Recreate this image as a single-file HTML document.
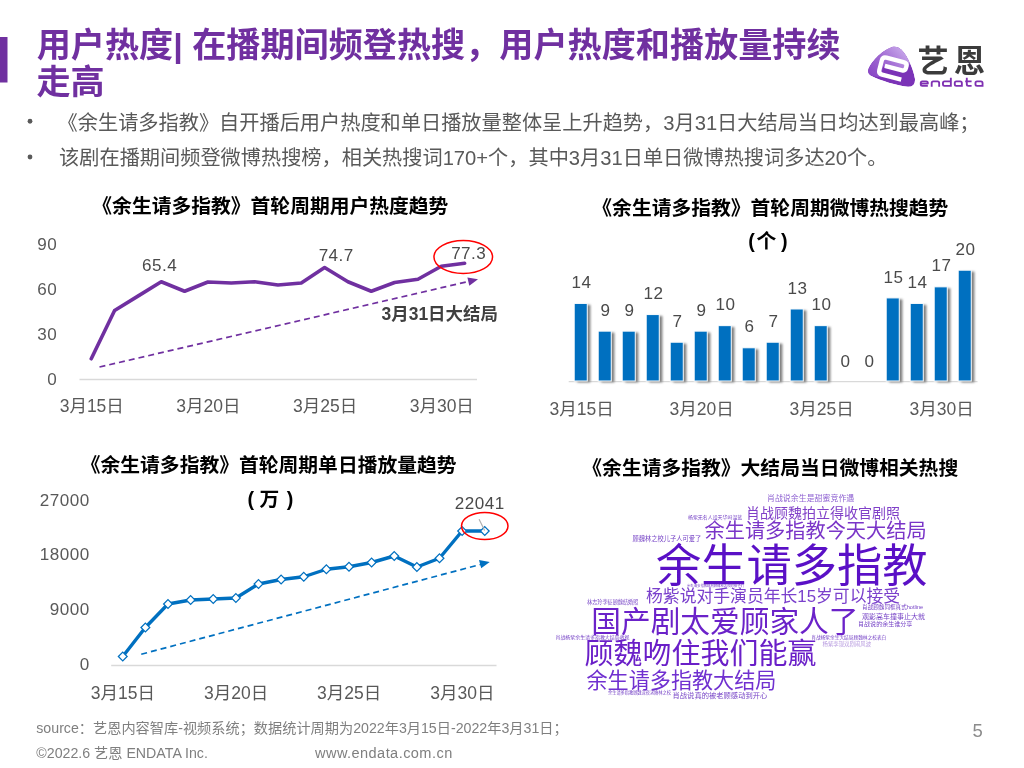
<!DOCTYPE html>
<html lang="zh">
<head>
<meta charset="utf-8">
<title>用户热度 | 余生请多指教</title>
<style>
html,body{margin:0;padding:0;background:#fff;}
body{width:1024px;height:768px;position:relative;overflow:hidden;font-family:"Liberation Sans","Noto Sans CJK SC",sans-serif;}
#art{position:absolute;left:0;top:0;width:1024px;height:768px;}
.t{position:absolute;white-space:nowrap;line-height:1;font-family:"Liberation Sans","Noto Sans CJK SC",sans-serif;}
#text{will-change:opacity;}
.h{color:transparent;-webkit-user-select:text;user-select:text;}
</style>
</head>
<body>
<svg id="art" width="1024" height="768" viewBox="0 0 1024 768">
<defs><linearGradient id="lg" x1="0.05" y1="0.9" x2="0.95" y2="0.25"><stop offset="0" stop-color="#8A48C6"/><stop offset="0.5" stop-color="#A06AD2"/><stop offset="1" stop-color="#C7A6EA"/></linearGradient>
<filter id="sh" x="-20%" y="-5%" width="150%" height="110%"><feGaussianBlur stdDeviation="0.95"/></filter></defs>
<rect x="0" y="37" width="7.5" height="45.5" fill="#7030A0"/>
<circle cx="30" cy="121.25" r="2.4" fill="#595959"/>
<circle cx="30" cy="157.00" r="2.4" fill="#595959"/>
<line x1="79.5" y1="379.5" x2="477" y2="379.5" stroke="#D9D9D9" stroke-width="1.3"/>
<polyline points="91.25,358.75 114.59,310.50 137.92,296.10 161.25,281.75 184.59,291.25 207.93,282.00 231.26,283.00 254.59,281.75 277.93,285.00 301.26,283.00 324.60,267.50 347.94,281.75 371.27,291.25 394.61,282.50 417.94,279.25 441.28,266.25 464.61,263.25" fill="none" stroke="#7030A0" stroke-width="3.6" stroke-linejoin="round" stroke-linecap="round"/>
<ellipse cx="463.25" cy="257.0" rx="29.3" ry="16.4" fill="none" stroke="#FF0000" stroke-width="1.5"/>
<line x1="99.5" y1="367" x2="470" y2="281.1" stroke="#7030A0" stroke-width="1.7" stroke-dasharray="6 4"/>
<polygon points="478,279.25 467.4,277.6 469.3,285.7" fill="#7030A0"/>
<line x1="568.7" y1="381.6" x2="977.5" y2="381.6" stroke="#D9D9D9" stroke-width="1.3"/>
<g fill="#808080" filter="url(#sh)" transform="translate(3.1 1.4)"><rect x="574.20" y="303.44" width="13.10" height="77.56"/><rect x="598.20" y="331.14" width="13.10" height="49.86"/><rect x="622.20" y="331.14" width="13.10" height="49.86"/><rect x="646.20" y="314.52" width="13.10" height="66.48"/><rect x="670.20" y="342.22" width="13.10" height="38.78"/><rect x="694.20" y="331.14" width="13.10" height="49.86"/><rect x="718.20" y="325.60" width="13.10" height="55.40"/><rect x="742.20" y="347.76" width="13.10" height="33.24"/><rect x="766.20" y="342.22" width="13.10" height="38.78"/><rect x="790.20" y="308.98" width="13.10" height="72.02"/><rect x="814.20" y="325.60" width="13.10" height="55.40"/><rect x="886.20" y="297.90" width="13.10" height="83.10"/><rect x="910.20" y="303.44" width="13.10" height="77.56"/><rect x="934.20" y="286.82" width="13.10" height="94.18"/><rect x="958.20" y="270.20" width="13.10" height="110.80"/></g>
<g fill="#0070C0" stroke="#fff" stroke-width="1.1" stroke-opacity="0.9"><rect x="574.20" y="303.44" width="13.10" height="77.56"/><rect x="598.20" y="331.14" width="13.10" height="49.86"/><rect x="622.20" y="331.14" width="13.10" height="49.86"/><rect x="646.20" y="314.52" width="13.10" height="66.48"/><rect x="670.20" y="342.22" width="13.10" height="38.78"/><rect x="694.20" y="331.14" width="13.10" height="49.86"/><rect x="718.20" y="325.60" width="13.10" height="55.40"/><rect x="742.20" y="347.76" width="13.10" height="33.24"/><rect x="766.20" y="342.22" width="13.10" height="38.78"/><rect x="790.20" y="308.98" width="13.10" height="72.02"/><rect x="814.20" y="325.60" width="13.10" height="55.40"/><rect x="886.20" y="297.90" width="13.10" height="83.10"/><rect x="910.20" y="303.44" width="13.10" height="77.56"/><rect x="934.20" y="286.82" width="13.10" height="94.18"/><rect x="958.20" y="270.20" width="13.10" height="110.80"/></g>
<line x1="111.2" y1="665.5" x2="496.5" y2="665.5" stroke="#D9D9D9" stroke-width="1.3"/>
<polyline points="122.75,656.50 145.38,627.50 168.00,604.00 190.62,600.00 213.25,599.00 235.88,598.00 258.50,584.00 281.12,579.50 303.75,576.75 326.38,569.25 349.00,566.75 371.62,562.50 394.25,556.00 416.88,567.00 439.50,558.25 462.12,531.00 484.75,531.00" fill="none" stroke="#0070C0" stroke-width="3.4" stroke-linejoin="round" stroke-linecap="round"/>
<g fill="#fff" stroke="#0070C0" stroke-width="1.25"><path d="M122.75 652.10l4.4 4.4l-4.4 4.4l-4.4-4.4z"/><path d="M145.38 623.10l4.4 4.4l-4.4 4.4l-4.4-4.4z"/><path d="M168.00 599.60l4.4 4.4l-4.4 4.4l-4.4-4.4z"/><path d="M190.62 595.60l4.4 4.4l-4.4 4.4l-4.4-4.4z"/><path d="M213.25 594.60l4.4 4.4l-4.4 4.4l-4.4-4.4z"/><path d="M235.88 593.60l4.4 4.4l-4.4 4.4l-4.4-4.4z"/><path d="M258.50 579.60l4.4 4.4l-4.4 4.4l-4.4-4.4z"/><path d="M281.12 575.10l4.4 4.4l-4.4 4.4l-4.4-4.4z"/><path d="M303.75 572.35l4.4 4.4l-4.4 4.4l-4.4-4.4z"/><path d="M326.38 564.85l4.4 4.4l-4.4 4.4l-4.4-4.4z"/><path d="M349.00 562.35l4.4 4.4l-4.4 4.4l-4.4-4.4z"/><path d="M371.62 558.10l4.4 4.4l-4.4 4.4l-4.4-4.4z"/><path d="M394.25 551.60l4.4 4.4l-4.4 4.4l-4.4-4.4z"/><path d="M416.88 562.60l4.4 4.4l-4.4 4.4l-4.4-4.4z"/><path d="M439.50 553.85l4.4 4.4l-4.4 4.4l-4.4-4.4z"/><path d="M462.12 526.60l4.4 4.4l-4.4 4.4l-4.4-4.4z"/><path d="M484.75 526.60l4.4 4.4l-4.4 4.4l-4.4-4.4z"/></g>
<line x1="479.1" y1="519.3" x2="484.6" y2="530.4" stroke="#ADADAD" stroke-width="1.15"/>
<ellipse cx="484.75" cy="526" rx="23.25" ry="13.5" fill="none" stroke="#FF0000" stroke-width="1.5"/>
<line x1="141.25" y1="654.25" x2="481.5" y2="564.2" stroke="#0070C0" stroke-width="1.7" stroke-dasharray="6 4"/>
<polygon points="489.75,562 479.0,560.1 481.2,568.3" fill="#0070C0"/>
<clipPath id="pk"><path d="M893 46.6Q897.5 45.6 901.5 49.5C908 56 913.5 70 914.9 78.5Q915.8 86.8 908 86.7C897 85.7 880 80.5 871.5 76Q866.8 73.5 868.5 68.5C872 60.5 883 49.5 893 46.6Z"/></clipPath>
<g id="logo" clip-path="url(#pk)"><path d="M893 46.6Q897.5 45.6 901.5 49.5C908 56 913.5 70 914.9 78.5Q915.8 86.8 908 86.7C897 85.7 880 80.5 871.5 76Q866.8 73.5 868.5 68.5C872 60.5 883 49.5 893 46.6Z" fill="#7B33B7"/><path d="M893 46.6Q897.5 45.6 901.5 49.5C905.5 53.5 908.3 58.5 909.8 62.5C909 67 906.5 71.5 902 74.5C895 78.5 880 77.8 869.3 75.4Q866.8 73 868.5 68.5C872 60.5 883 49.5 893 46.6Z" fill="url(#lg)"/><g transform="translate(892.8 68.4) rotate(14.5) scale(1.1)"><path d="M-9 0.5H20V9H-9Z" fill="#7B33B7"/><path d="M10 8H-8Q-11.5 8-11.5 4.5V-4.5Q-11.5-8-8-8H8Q11.5-8 11.5-5V-3.2Q11.5-0.4 8.6-0.4H-7.6" fill="none" stroke="#fff" stroke-width="3.95" stroke-linejoin="round" stroke-linecap="butt"/></g></g>
<path d="M920.75 83.60H927.85V82.90Q927.85 81.30 926.25 81.30H922.35Q920.75 81.30 920.75 82.90V84.30Q920.75 85.90 922.35 85.90H927.85M931.70 86.80V82.90Q931.70 81.30 933.30 81.30H937.55Q939.15 81.30 939.15 82.90V86.80M950.85 77.80V86.85M950.85 85.90H944.55Q942.95 85.90 942.95 84.30V82.90Q942.95 81.30 944.55 81.30H949.25H950.85M961.85 82.90V86.85M961.85 85.90H956.35Q954.75 85.90 954.75 84.30V82.90Q954.75 81.30 956.35 81.30H960.25Q961.85 81.30 961.85 82.90M966.80 77.80V84.30Q966.80 85.90 968.40 85.90H971.60M965.20 81.30H971.60M982.55 82.90V86.85M982.55 85.90H977.05Q975.45 85.90 975.45 84.30V82.90Q975.45 81.30 977.05 81.30H980.95Q982.55 81.30 982.55 82.90" fill="none" stroke="#7F30B2" stroke-width="1.85" stroke-linecap="butt" stroke-linejoin="round"/>
</svg>
<div id="text">
<div class="t" style="left:36.72px;top:28.11px;font-size:34.13px;font-weight:bold;color:#7030A0;">用户热度| 在播期间频登热搜，用户热度和播放量持续</div>
<div class="t" style="left:36.40px;top:64.81px;font-size:34.13px;font-weight:bold;color:#7030A0;">走高</div>
<div class="t" style="left:57.61px;top:112.60px;font-size:20.20px;color:#595959;">《余生请多指教》自开播后用户热度和单日播放量整体呈上升趋势，3月31日大结局当日均达到最高峰；</div>
<div class="t" style="left:59.07px;top:148.30px;font-size:20.20px;color:#595959;">该剧在播期间频登微博热搜榜，相关热搜词170+个，其中3月31日单日微博热搜词多达20个。</div>
<div class="t" style="left:92.34px;top:196.54px;font-size:19.80px;font-weight:bold;color:#000;">《余生请多指教》首轮周期用户热度趋势</div>
<div class="t" style="left:592.34px;top:199.04px;font-size:19.80px;font-weight:bold;color:#000;">《余生请多指教》首轮周期微博热搜趋势</div>
<div class="t" style="left:80.74px;top:455.74px;font-size:19.80px;font-weight:bold;color:#000;">《余生请多指教》首轮周期单日播放量趋势</div>
<div class="t" style="left:582.34px;top:459.04px;font-size:19.80px;font-weight:bold;color:#000;">《余生请多指教》大结局当日微博相关热搜</div>
<div class="t" style="left:57.31px;top:371.15px;font-size:17.07px;letter-spacing:0.51px;color:#595959;transform:translateX(-100%);">0</div>
<div class="t" style="left:57.31px;top:326.15px;font-size:17.07px;letter-spacing:0.51px;color:#595959;transform:translateX(-100%);">30</div>
<div class="t" style="left:57.31px;top:281.15px;font-size:17.07px;letter-spacing:0.51px;color:#595959;transform:translateX(-100%);">60</div>
<div class="t" style="left:57.31px;top:236.15px;font-size:17.07px;letter-spacing:0.51px;color:#595959;transform:translateX(-100%);">90</div>
<div class="t" style="left:91.75px;top:398.39px;font-size:17.50px;color:#595959;transform:translateX(-50%);">3月15日</div>
<div class="t" style="left:208.43px;top:398.39px;font-size:17.50px;color:#595959;transform:translateX(-50%);">3月20日</div>
<div class="t" style="left:325.10px;top:398.39px;font-size:17.50px;color:#595959;transform:translateX(-50%);">3月25日</div>
<div class="t" style="left:441.78px;top:398.39px;font-size:17.50px;color:#595959;transform:translateX(-50%);">3月30日</div>
<div class="t" style="left:159.66px;top:257.05px;font-size:17.07px;letter-spacing:0.51px;color:#4A4A4A;transform:translateX(-50%);">65.4</div>
<div class="t" style="left:336.26px;top:246.55px;font-size:17.07px;letter-spacing:0.51px;color:#4A4A4A;transform:translateX(-50%);">74.7</div>
<div class="t" style="left:468.76px;top:244.80px;font-size:17.07px;letter-spacing:0.51px;color:#4A4A4A;transform:translateX(-50%);">77.3</div>
<div class="t" style="left:381.60px;top:305.63px;font-size:17.45px;font-weight:bold;color:#404040;">3月31日大结局</div>
<div class="t" style="left:581.41px;top:274.09px;font-size:17.07px;letter-spacing:0.51px;color:#4A4A4A;transform:translateX(-50%);">14</div>
<div class="t" style="left:605.41px;top:301.79px;font-size:17.07px;letter-spacing:0.51px;color:#4A4A4A;transform:translateX(-50%);">9</div>
<div class="t" style="left:629.41px;top:301.79px;font-size:17.07px;letter-spacing:0.51px;color:#4A4A4A;transform:translateX(-50%);">9</div>
<div class="t" style="left:653.41px;top:285.17px;font-size:17.07px;letter-spacing:0.51px;color:#4A4A4A;transform:translateX(-50%);">12</div>
<div class="t" style="left:677.41px;top:312.87px;font-size:17.07px;letter-spacing:0.51px;color:#4A4A4A;transform:translateX(-50%);">7</div>
<div class="t" style="left:701.41px;top:301.79px;font-size:17.07px;letter-spacing:0.51px;color:#4A4A4A;transform:translateX(-50%);">9</div>
<div class="t" style="left:725.41px;top:296.25px;font-size:17.07px;letter-spacing:0.51px;color:#4A4A4A;transform:translateX(-50%);">10</div>
<div class="t" style="left:749.41px;top:318.41px;font-size:17.07px;letter-spacing:0.51px;color:#4A4A4A;transform:translateX(-50%);">6</div>
<div class="t" style="left:773.41px;top:312.87px;font-size:17.07px;letter-spacing:0.51px;color:#4A4A4A;transform:translateX(-50%);">7</div>
<div class="t" style="left:797.41px;top:279.63px;font-size:17.07px;letter-spacing:0.51px;color:#4A4A4A;transform:translateX(-50%);">13</div>
<div class="t" style="left:821.41px;top:296.25px;font-size:17.07px;letter-spacing:0.51px;color:#4A4A4A;transform:translateX(-50%);">10</div>
<div class="t" style="left:845.41px;top:352.75px;font-size:17.07px;letter-spacing:0.51px;color:#4A4A4A;transform:translateX(-50%);">0</div>
<div class="t" style="left:869.41px;top:352.75px;font-size:17.07px;letter-spacing:0.51px;color:#4A4A4A;transform:translateX(-50%);">0</div>
<div class="t" style="left:893.41px;top:268.55px;font-size:17.07px;letter-spacing:0.51px;color:#4A4A4A;transform:translateX(-50%);">15</div>
<div class="t" style="left:917.41px;top:274.09px;font-size:17.07px;letter-spacing:0.51px;color:#4A4A4A;transform:translateX(-50%);">14</div>
<div class="t" style="left:941.41px;top:257.47px;font-size:17.07px;letter-spacing:0.51px;color:#4A4A4A;transform:translateX(-50%);">17</div>
<div class="t" style="left:965.41px;top:240.85px;font-size:17.07px;letter-spacing:0.51px;color:#4A4A4A;transform:translateX(-50%);">20</div>
<div class="t" style="left:581.55px;top:400.69px;font-size:17.50px;color:#595959;transform:translateX(-50%);">3月15日</div>
<div class="t" style="left:701.55px;top:400.69px;font-size:17.50px;color:#595959;transform:translateX(-50%);">3月20日</div>
<div class="t" style="left:821.55px;top:400.69px;font-size:17.50px;color:#595959;transform:translateX(-50%);">3月25日</div>
<div class="t" style="left:941.55px;top:400.69px;font-size:17.50px;color:#595959;transform:translateX(-50%);">3月30日</div>
<div class="t" style="left:748.20px;top:231.64px;font-size:19.80px;font-weight:bold;color:#000;">(</div>
<div class="t" style="left:756.60px;top:231.64px;font-size:19.80px;font-weight:bold;color:#000;">个</div>
<div class="t" style="left:781.00px;top:231.64px;font-size:19.80px;font-weight:bold;color:#000;">)</div>
<div class="t" style="left:89.81px;top:656.35px;font-size:17.07px;letter-spacing:0.51px;color:#595959;transform:translateX(-100%);">0</div>
<div class="t" style="left:89.81px;top:601.40px;font-size:17.07px;letter-spacing:0.51px;color:#595959;transform:translateX(-100%);">9000</div>
<div class="t" style="left:89.81px;top:546.45px;font-size:17.07px;letter-spacing:0.51px;color:#595959;transform:translateX(-100%);">18000</div>
<div class="t" style="left:89.81px;top:491.50px;font-size:17.07px;letter-spacing:0.51px;color:#595959;transform:translateX(-100%);">27000</div>
<div class="t" style="left:122.95px;top:684.69px;font-size:17.50px;color:#595959;transform:translateX(-50%);">3月15日</div>
<div class="t" style="left:236.07px;top:684.69px;font-size:17.50px;color:#595959;transform:translateX(-50%);">3月20日</div>
<div class="t" style="left:349.20px;top:684.69px;font-size:17.50px;color:#595959;transform:translateX(-50%);">3月25日</div>
<div class="t" style="left:462.32px;top:684.69px;font-size:17.50px;color:#595959;transform:translateX(-50%);">3月30日</div>
<div class="t" style="left:479.86px;top:494.55px;font-size:17.07px;letter-spacing:0.51px;color:#4A4A4A;transform:translateX(-50%);">22041</div>
<div class="t" style="left:247.50px;top:489.74px;font-size:19.80px;font-weight:bold;color:#000;">(</div>
<div class="t" style="left:259.50px;top:489.74px;font-size:19.80px;font-weight:bold;color:#000;">万</div>
<div class="t" style="left:286.70px;top:489.74px;font-size:19.80px;font-weight:bold;color:#000;">)</div>
<div class="t" style="left:655.90px;top:543.90px;font-size:45.25px;color:#5A10C6;">余生请多指教</div>
<div class="t" style="left:591.30px;top:607.33px;font-size:29.70px;color:#6B22C9;">国产剧太爱顾家人了</div>
<div class="t" style="left:584.50px;top:639.58px;font-size:29.00px;color:#6A1FC8;">顾魏吻住我们能赢</div>
<div class="t" style="left:704.50px;top:521.49px;font-size:20.20px;color:#7A35C8;">余生请多指教今天大结局</div>
<div class="t" style="left:586.50px;top:670.26px;font-size:21.10px;color:#7030D0;">余生请多指教大结局</div>
<div class="t" style="left:646.00px;top:589.10px;font-size:16.82px;color:#7A40CC;">杨紫说对手演员年长15岁可以接受</div>
<div class="t" style="left:746.00px;top:506.00px;font-size:14.00px;color:#8040C8;">肖战顾魏拍立得收官剧照</div>
<div class="t" style="left:767.00px;top:495.27px;font-size:7.95px;color:#8F62D2;">肖战说余生是甜蜜竞作遇</div>
<div class="t" style="left:688.00px;top:515.54px;font-size:4.95px;color:#7643C6;">杨紫无名人设天华吗温蓝</div>
<div class="t" style="left:632.50px;top:536.34px;font-size:6.25px;color:#7643C6;">顾魏林之校儿子人可爱了</div>
<div class="t" style="left:687.00px;top:584.51px;font-size:3.35px;color:#7643C6;">余生请多指教结局顾魏林之校的孩子们</div>
<div class="t" style="left:587.00px;top:600.35px;font-size:5.15px;color:#7643C6;">林志玲李征顾魏结婚照</div>
<div class="t" style="left:555.50px;top:635.54px;font-size:4.95px;color:#7643C6;">肖战杨紫余生请多指教大结局收视</div>
<div class="t" style="left:862.00px;top:604.94px;font-size:5.60px;color:#7643C6;">肖战顾魏同框真式hotline</div>
<div class="t" style="left:862.00px;top:612.65px;font-size:7.00px;color:#7643C6;">观影高车撞事止大就</div>
<div class="t" style="left:858.00px;top:620.82px;font-size:6.05px;color:#7643C6;">肖战说的余生谁分享</div>
<div class="t" style="left:811.25px;top:635.77px;font-size:4.70px;color:#7643C6;">肖战杨紫余生大结局顾魏林之校表白</div>
<div class="t" style="left:822.50px;top:642.12px;font-size:5.40px;color:#B79ADF;">杨紫李现双剧闹风波</div>
<div class="t" style="left:608.00px;top:690.73px;font-size:4.20px;color:#7643C6;">余生请多指教顾魏深夜求婚林之校</div>
<div class="t" style="left:672.50px;top:692.17px;font-size:7.30px;color:#7643C6;">肖战说真的被老顾感动到开心</div>
<div class="t" style="left:36.27px;top:721.28px;font-size:14.20px;color:#7F7F7F;">source：艺恩内容智库-视频系统；数据统计周期为2022年3月15日-2022年3月31日；</div>
<div class="t" style="left:36.31px;top:746.18px;font-size:14.20px;color:#7F7F7F;">©2022.6 艺恩 ENDATA Inc.</div>
<div class="t" style="left:315.00px;top:745.98px;font-size:14.55px;letter-spacing:0.44px;color:#7F7F7F;">www.endata.com.cn</div>
<div class="t" style="left:972.60px;top:721.64px;font-size:18.50px;letter-spacing:0.55px;color:#8C8C8C;">5</div>
<div class="t" style="left:917.45px;top:45.76px;font-size:31px;font-weight:bold;letter-spacing:5.65px;color:#3B3B3B;">艺恩</div>
<div class="t h" style="left:919px;top:76px;font-size:12px;">endata</div>
</div>
</body>
</html>
